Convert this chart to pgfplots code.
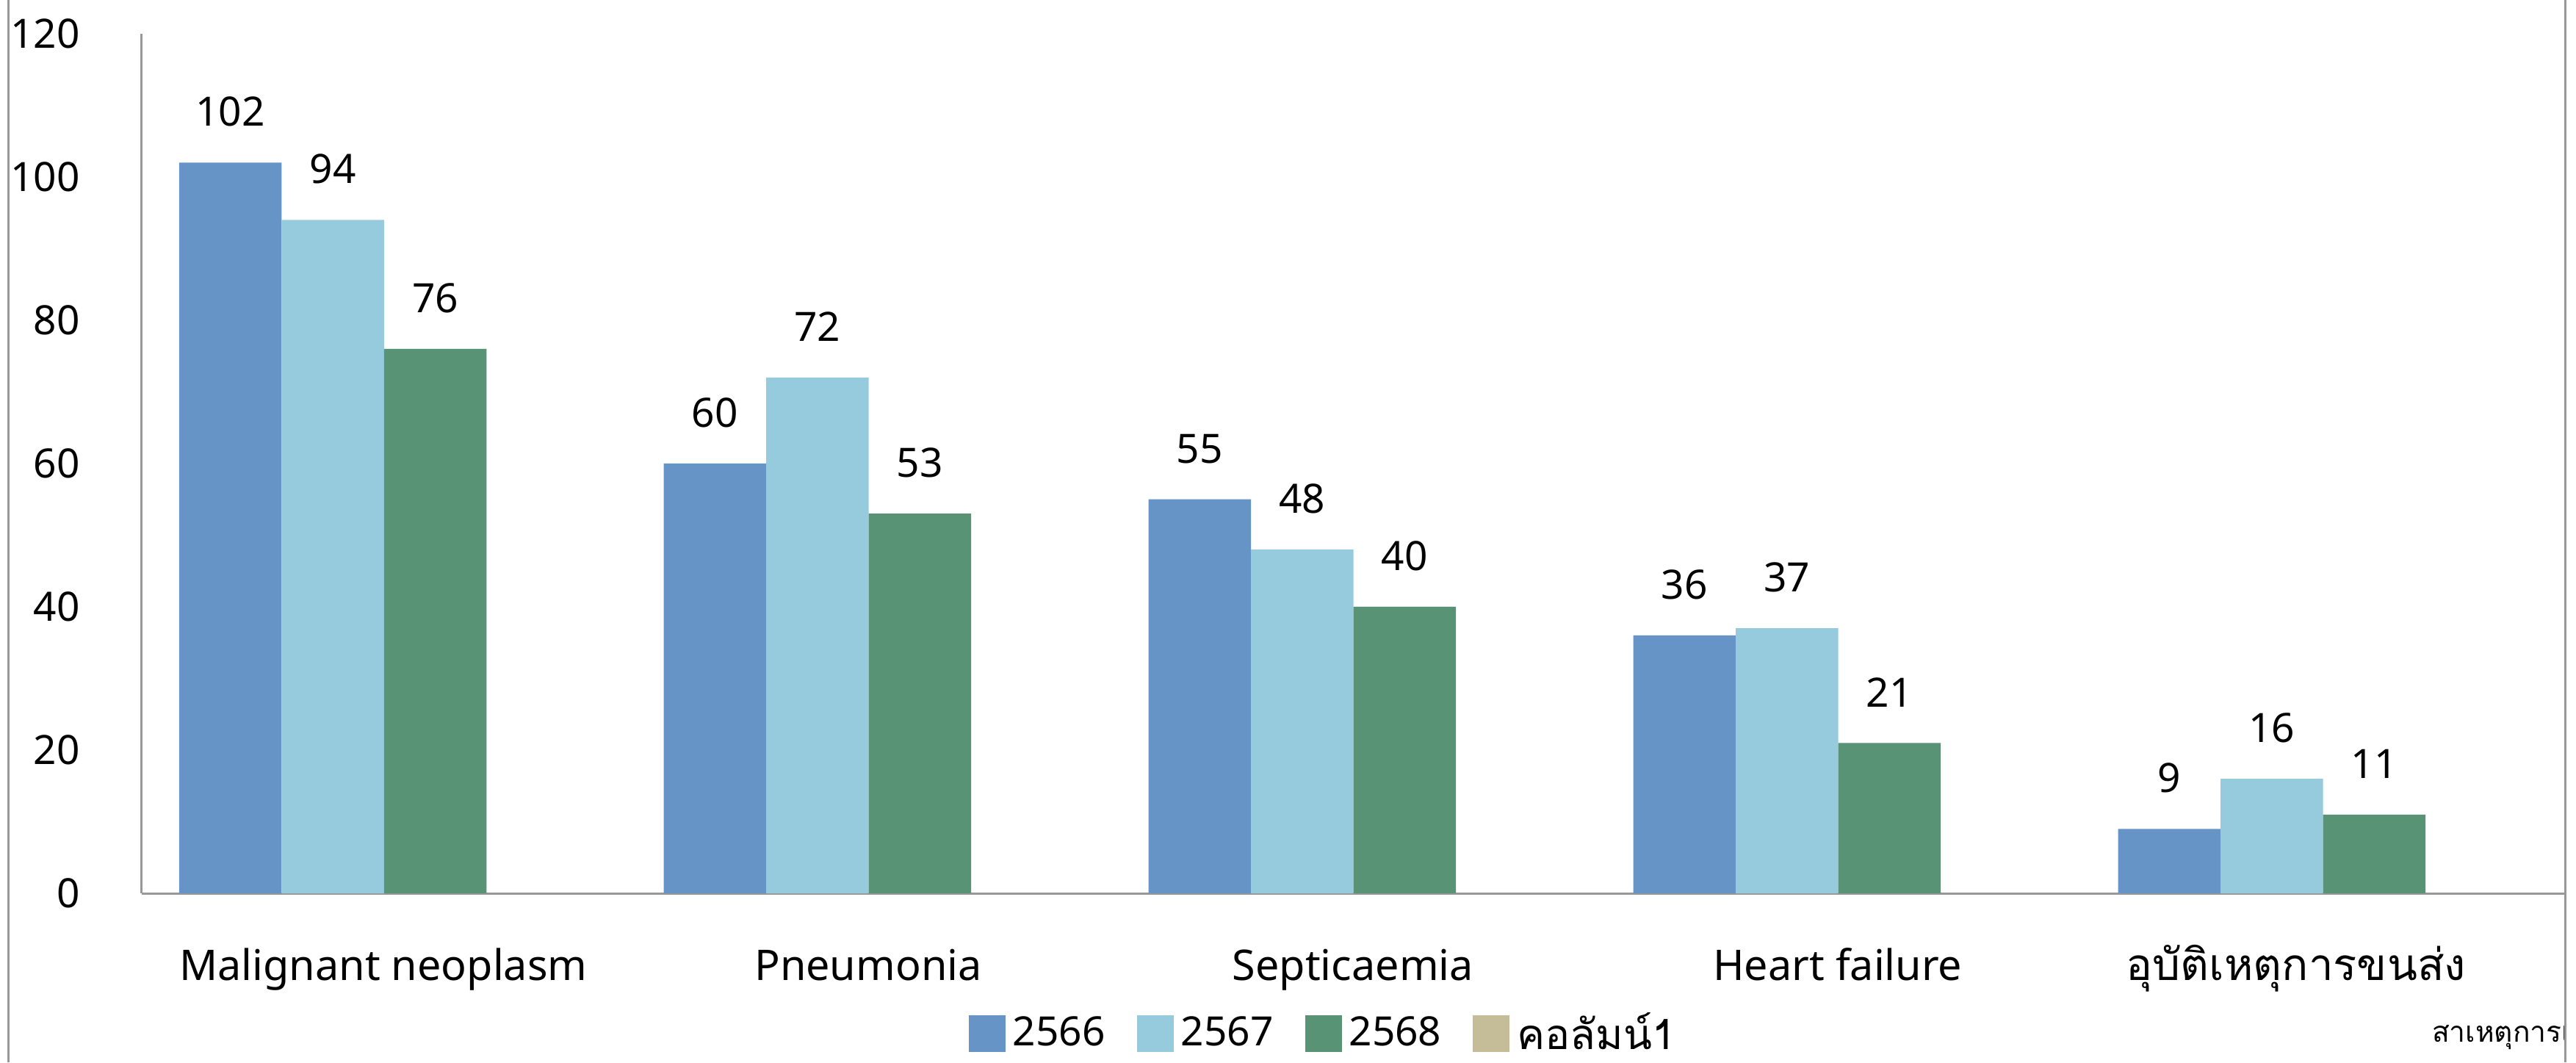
\documentclass[border=0pt]{standalone}
\usepackage{fontspec}
\setmainfont{Noto Sans}
\newfontfamily\thaifont[Script=Thai]{Loma}
\usepackage{pgfplots}
\pgfplotsset{compat=1.18}
\definecolor{cA}{HTML}{6794C7}
\definecolor{cB}{HTML}{95CBDD}
\definecolor{cC}{HTML}{579374}
\definecolor{cD}{HTML}{C4BD97}
\definecolor{axgray}{HTML}{989898}
\newcommand{\fs}{\fontsize{11pt}{13pt}\selectfont}
\newcommand{\fc}{\fontsize{11.5pt}{13.5pt}\selectfont}
\begin{document}
\begin{tikzpicture}
\begin{axis}[
  at={(0,0)}, anchor=south west,
  scale only axis, width=659.8pt, height=234pt,
  xmin=-0.394, xmax=4.605, ymin=0, ymax=120,
  axis x line*=bottom, axis y line*=left,
  axis line style={draw=axgray, line width=0.6pt, -},
  xtick={0,1,2,3,4},
  xticklabels={Malignant neoplasm, Pneumonia, Septicaemia, Heart failure, {\hspace*{-14.4pt}\thaifont\fontsize{12pt}{14pt}\selectfont อุบัติเหตุการขนส่ง}},
  ytick={0,20,...,120},
  major tick length=0pt,
  /pgf/number format/assume math mode=true,
  xticklabel style={font=\fc, text height=8pt, text depth=2.5pt, yshift=-12.1pt, xshift=13.8pt},
  yticklabel style={font=\fs, xshift=-13.3pt},
  ybar=0pt, bar width=27.9pt,
  nodes near coords,
  every node near coord/.append style={font=\fs, yshift=6.3pt, text=black},
  legend columns=4,
  legend style={at={(0.4886,-0.1632)}, anchor=center, draw=none, font=\fs,
    /tikz/every even column/.append style={column sep=6.6pt}},
  legend image code/.code={\fill[#1] (0pt,-5pt) rectangle (10pt,5pt);},
]
\addplot[fill=cA, draw=none] coordinates {(0,102) (1,60) (2,55) (3,36) (4,9)};
\addlegendentry{2566}
\addplot[fill=cB, draw=none] coordinates {(0,94) (1,72) (2,48) (3,37) (4,16)};
\addlegendentry{2567}
\addplot[fill=cC, draw=none] coordinates {(0,76) (1,53) (2,40) (3,21) (4,11)};
\addlegendentry{2568}
\addlegendimage{fill=cD, draw=none}
\addlegendentry{\thaifont\fontsize{11.4pt}{13pt}\selectfont คอลัมน์1}
\end{axis}
\draw[axgray, line width=0.6pt] (-36.2pt,-46pt) -- (-36.2pt,243.2pt);
\draw[axgray, line width=0.6pt] (659.8pt,-46pt) -- (659.8pt,243.2pt);
\begin{scope}
\clip (500pt,-46pt) rectangle (659.5pt,-20pt);
\node[anchor=base west, inner sep=0pt, font=\thaifont\fontsize{7.8pt}{10pt}\selectfont] at (623.4pt,-40.4pt) {สาเหตุการเสียชีวิต};
\end{scope}
\pgfresetboundingbox
\useasboundingbox (-38.6pt,-46pt) rectangle (662.8pt,243.2pt);
\end{tikzpicture}
\end{document}
